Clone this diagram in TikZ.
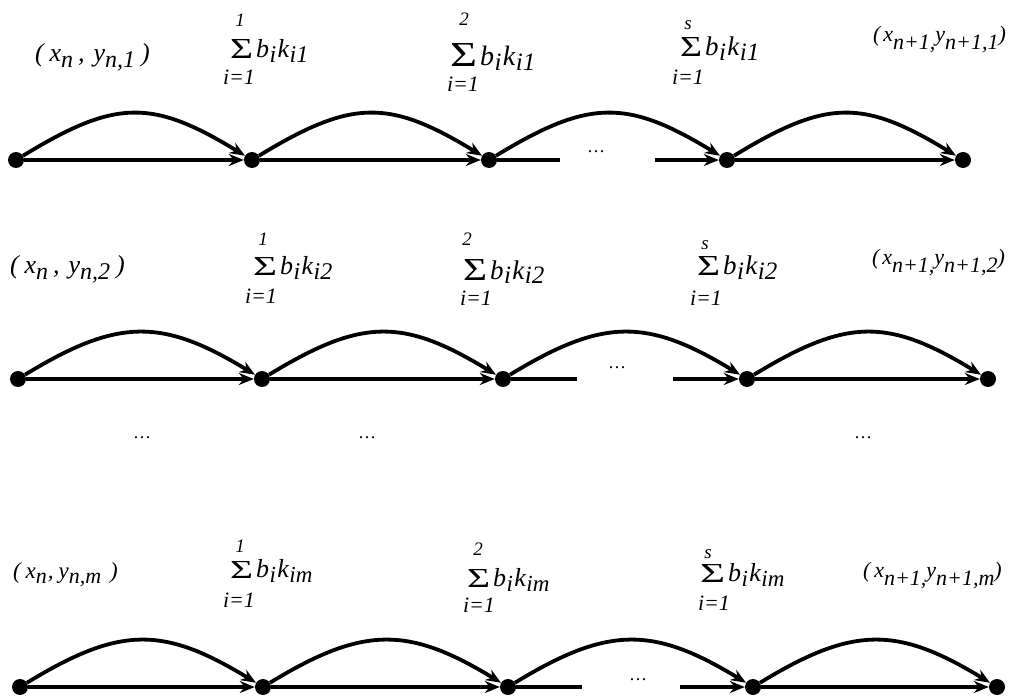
\documentclass[tikz,border=0pt]{standalone}
\usepackage{graphicx}
\usepackage{fontspec}
\setmainfont{Liberation Serif}
\usetikzlibrary{arrows.meta}
\newcommand\fs[1]{\fontsize{#1}{#1}\selectfont}
\newcommand\lo[3]{\raisebox{-#1pt}{\fs{#2}#3}}
\newcommand\sig[2]{\resizebox{#1pt}{#2pt}{\upshape Σ}}
\newcommand\bk[3]{\fs{#1}b\hspace{0.5pt}\lo{5}{#2}{i}\hspace{1.5pt}k\hspace{0.5pt}\lo{5}{#2}{#3}}
\tikzset{
  lbl/.style={inner sep=0pt, outer sep=0pt, font=\itshape},
  dot/.style={circle, fill=black, inner sep=0pt, minimum size=16pt},
  ln/.style={line width=3.8pt},
  arr/.style={line width=3.8pt, -{Stealth[length=15pt,width=12pt,inset=5pt]}},
}
\begin{document}
\begin{tikzpicture}[x=1pt,y=-1pt]
\useasboundingbox (0,0) rectangle (1021,698);
% rows of points and connectors
\foreach \r/\y/\a/\b/\c/\d/\e/\gs/\ge/\dx/\dy in {1/160/16/252/489/727/963/560/655/596/153, 2/379/18/262/503/747/988/577/673/617/368, 3/687/20/263/508/753/997/582/680/638/680}
{
  \node[dot] (d\r-1) at (\a,\y) {};
  \node[dot] (d\r-2) at (\b,\y) {};
  \node[dot] (d\r-3) at (\c,\y) {};
  \node[dot] (d\r-4) at (\d,\y) {};
  \node[dot] (d\r-5) at (\e,\y) {};
  \coordinate (g\r-a) at (\gs,\y);
  \coordinate (g\r-b) at (\ge,\y);
  \draw[arr] (d\r-1) -- (d\r-2);
  \draw[arr] (d\r-2) -- (d\r-3);
  \draw[ln] (d\r-3) -- (g\r-a);
  \draw[arr] (g\r-b) -- (d\r-4);
  \draw[arr] (d\r-4) -- (d\r-5);
  \foreach \p/\q in {1/2,2/3,3/4,4/5}
    \draw[arr] (d\r-\p) .. controls +(100,-61) and +(-100,-61) .. (d\r-\q);
  \node[lbl, anchor=base] (e\r) at (\dx,\dy) {\fs{18}\upshape …};
}
% middle row of ellipses
\node[lbl, anchor=base] (m1) at (142,438) {\fs{18}\upshape …};
\node[lbl, anchor=base] (m2) at (367,438) {\fs{18}\upshape …};
\node[lbl, anchor=base] (m3) at (863,438) {\fs{18}\upshape …};
% sum labels
\foreach \n/\sx/\sy/\sw/\sh/\u/\ux/\uy/\es/\ss/\k/\lx/\ly in {
  11/230/59/23/19/1/240/27/26/24/i1/223/85,
  12/450/67/27/23/2/464/26/28/25/i1/447/92,
  13/680/57/22/19/s/688/30/27/25/i1/672/85,
  21/253/275/24/18/1/263/246/26/24/i2/245/303,
  22/463/280/24/21/2/467/245/27/25/i2/460/305,
  23/697/275/23/19/s/705/249/27/25/i2/690/305,
  31/230/578/23/17/1/240/552/26/23/im/223/607,
  32/467/587/23/18/2/478/555/26/23/im/463/612,
  33/700/582/25/18/s/708/558/26/23/im/698/610}
{
  \node[lbl, anchor=base west] (s\n) at (\sx,\sy) {\sig{\sw}{\sh}};
  \node[lbl, anchor=base] (s\n-u) at (\ux,\uy) {\fs{19}\u};
  \node[lbl, anchor=base west] (s\n-e) at (\sx+\sw+3,\sy-1) {\bk{\es}{\ss}{\k}};
  \node[lbl, anchor=base west] (s\n-l) at (\lx,\ly) {\fs{22}i=1};
}
% point labels
\node[lbl, anchor=base west] (l1) at (35,62) {\fs{26}(\hspace{6pt}x\lo{6}{24}{n}\hspace{5pt},\hspace{9pt}y\lo{6}{24}{n,1}\hspace{6pt})};
\node[lbl, anchor=base west] (l2) at (10,273) {\fs{26}(\hspace{6pt}x\lo{6}{24}{n}\hspace{5pt},\hspace{9pt}y\lo{6}{24}{n,2}\hspace{6pt})};
\node[lbl, anchor=base west] (l3) at (13,578) {\fs{23}(\hspace{5pt}x\lo{5}{22}{n}\hspace{1pt},\hspace{5pt}y\lo{5}{22}{n,m}\hspace{9pt})};
\node[lbl, anchor=base west] (r1) at (873,42) {\fs{22}(\hspace{3pt}x\lo{8}{22}{n+1,}y\lo{8}{22}{n+1,1})};
\node[lbl, anchor=base west] (r2) at (872,265) {\fs{22}(\hspace{3pt}x\lo{8}{22}{n+1,}y\lo{8}{22}{n+1,2})};
\node[lbl, anchor=base west] (r3) at (863,577) {\fs{22}(\hspace{4pt}x\lo{8}{22}{n+1,}y\lo{8}{22}{n+1,m})};
\end{tikzpicture}
\end{document}
